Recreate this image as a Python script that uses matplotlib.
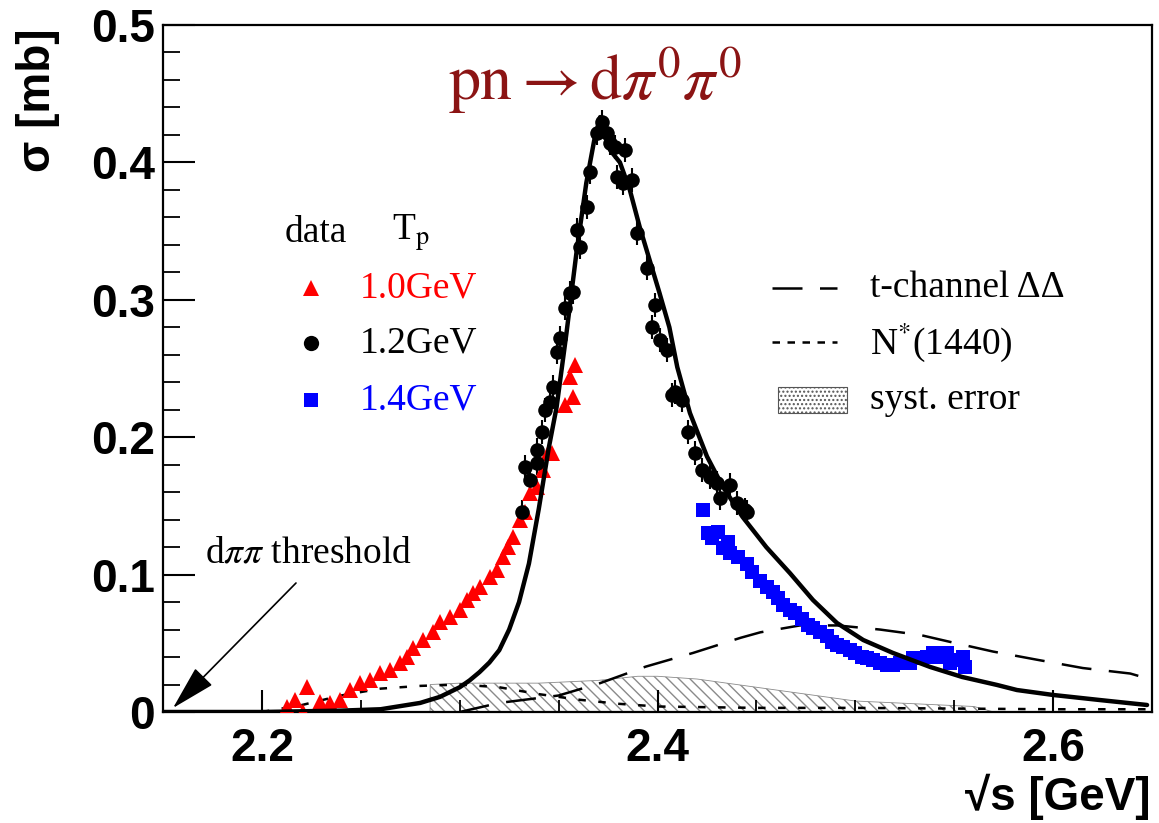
import matplotlib
matplotlib.use("Agg")
import matplotlib.pyplot as plt
from matplotlib.lines import Line2D
from matplotlib.patches import Rectangle
from matplotlib.ticker import MultipleLocator, FixedLocator

plt.rcParams['mathtext.fontset'] = 'stix'

# ---------------- data ----------------
# 1.0 GeV (red triangles)
red_x = [2.2127, 2.2167, 2.2208, 2.2228, 2.2294, 2.2344, 2.2395, 2.2445, 2.2496, 2.2547,
         2.2597, 2.2648, 2.2698, 2.2734, 2.2764, 2.2814, 2.2865, 2.2900, 2.2951, 2.3002,
         2.3037, 2.3067, 2.3103, 2.3153, 2.3189, 2.3219, 2.3244, 2.3269, 2.3305, 2.3330,
         2.3355, 2.3391, 2.3421, 2.3446, 2.3467, 2.3532, 2.3573, 2.3558, 2.3583]
red_y = [0.0036, 0.0087, 0.0000, 0.0182, 0.0073, 0.0066, 0.0087, 0.0160, 0.0211, 0.0233,
         0.0284, 0.0306, 0.0357, 0.0400, 0.0466, 0.0524, 0.0582, 0.0655, 0.0691, 0.0742,
         0.0815, 0.0866, 0.0910, 0.0983, 0.1033, 0.1128, 0.1201, 0.1274, 0.1397, 0.1456,
         0.1594, 0.1638, 0.1761, 0.1885, 0.1885, 0.2234, 0.2293, 0.2438, 0.2525]

# 1.2 GeV (black circles)
blk_x = [2.3315, 2.3330, 2.3355, 2.3390, 2.3390, 2.3416, 2.3431, 2.3457, 2.3472, 2.3492,
         2.3507, 2.3532, 2.3558, 2.3573, 2.3593, 2.3608, 2.3644, 2.3659, 2.3694, 2.3719,
         2.3745, 2.3760, 2.3785, 2.3795, 2.3826, 2.3836, 2.3871, 2.3896, 2.3947, 2.3972,
         2.3987, 2.4013, 2.4048, 2.4073, 2.4089, 2.4124, 2.4154, 2.4190, 2.4225, 2.4265,
         2.4301, 2.4316, 2.4367, 2.4402, 2.4442, 2.4452]
blk_y = [0.1456, 0.1783, 0.1689, 0.1812, 0.1907, 0.2038, 0.2198, 0.2256, 0.2365, 0.2620,
         0.2722, 0.2940, 0.3049, 0.3057, 0.3508, 0.3384, 0.3675, 0.3930, 0.4214, 0.4294,
         0.4214, 0.4141, 0.4112, 0.3894, 0.3850, 0.4090, 0.3872, 0.3486, 0.3231, 0.2802,
         0.2962, 0.2707, 0.2635, 0.2307, 0.2329, 0.2271, 0.2038, 0.1885, 0.1761, 0.1710,
         0.1667, 0.1557, 0.1652, 0.1521, 0.1470, 0.1456]

# 1.4 GeV (blue squares)
blu_x = [2.4230, 2.4255, 2.4276, 2.4306, 2.4331, 2.4356, 2.4367, 2.4407, 2.4452, 2.4478,
         2.4518, 2.4554, 2.4584, 2.4609, 2.4635, 2.4670, 2.4695, 2.4731, 2.4761, 2.4786,
         2.4822, 2.4857, 2.4882, 2.4907, 2.4938, 2.4973, 2.4998, 2.5034, 2.5059, 2.5090,
         2.5125, 2.5160, 2.5191, 2.5226, 2.5277, 2.5292, 2.5362, 2.5393, 2.5428, 2.5464,
         2.5479, 2.5529, 2.5545, 2.5555]
blu_y = [0.147, 0.130, 0.127, 0.131, 0.119, 0.124, 0.116, 0.113, 0.108, 0.102,
         0.095, 0.091, 0.087, 0.083, 0.078, 0.074, 0.072, 0.068, 0.063, 0.061,
         0.058, 0.055, 0.051, 0.049, 0.047, 0.045, 0.043, 0.040, 0.039, 0.038,
         0.036, 0.034, 0.034, 0.036, 0.036, 0.039, 0.040, 0.043, 0.040, 0.043,
         0.036, 0.038, 0.040, 0.033]

# full model (solid)
fit_x = [2.150, 2.200, 2.240, 2.260, 2.280, 2.290, 2.300, 2.305, 2.310, 2.315, 2.320,
         2.325, 2.330, 2.335, 2.340, 2.345, 2.349, 2.354, 2.359, 2.364, 2.368, 2.371,
         2.376, 2.381, 2.386, 2.391, 2.396, 2.401, 2.406, 2.410, 2.4164, 2.425, 2.433,
         2.443, 2.455, 2.467, 2.4786, 2.4907, 2.504, 2.519, 2.5378, 2.554, 2.5716,
         2.5817, 2.600, 2.6237, 2.6475]
fit_y = [0.0, 0.0, 0.001, 0.002, 0.0066, 0.011, 0.018, 0.023, 0.029, 0.036, 0.045,
         0.060, 0.080, 0.108, 0.148, 0.192, 0.222, 0.276, 0.334, 0.385, 0.416, 0.433,
         0.409, 0.400, 0.380, 0.353, 0.329, 0.305, 0.280, 0.251, 0.2176, 0.186, 0.164,
         0.142, 0.120, 0.101, 0.0815, 0.0648, 0.0524, 0.043, 0.0328, 0.0255, 0.0197,
         0.016, 0.0124, 0.0087, 0.0051]

# t-channel DeltaDelta (long dashes)
tch_x = [2.300, 2.320, 2.350, 2.371, 2.394, 2.418, 2.442, 2.452, 2.472, 2.491, 2.5125,
         2.533, 2.548, 2.5696, 2.592, 2.615, 2.639, 2.645, 2.646]
tch_y = [0.0, 0.0066, 0.012, 0.021, 0.033, 0.043, 0.054, 0.058, 0.063, 0.063, 0.060,
         0.056, 0.051, 0.044, 0.038, 0.032, 0.028, 0.0255, 0.017]

# N*(1440) (short dashes)
nst_x = [2.200, 2.220, 2.240, 2.260, 2.280, 2.300, 2.320, 2.340, 2.360, 2.380, 2.400,
         2.450, 2.500, 2.550, 2.600, 2.650]
nst_y = [0.0, 0.005, 0.012, 0.017, 0.019, 0.020, 0.018, 0.013, 0.009, 0.006, 0.004,
         0.003, 0.003, 0.0025, 0.002, 0.002]

# systematic error band (upper edge)
sys_x = [2.285, 2.2851, 2.300, 2.340, 2.370, 2.390, 2.400, 2.420, 2.440, 2.460, 2.480,
         2.500, 2.530, 2.560, 2.570]
sys_y = [0.0, 0.020, 0.021, 0.021, 0.023, 0.026, 0.026, 0.024, 0.020, 0.016, 0.012,
         0.008, 0.006, 0.004, 0.0]

x_major = [2.2, 2.4, 2.6]
x_labels = ["2.2", "2.4", "2.6"]
y_major = [0, 0.1, 0.2, 0.3, 0.4, 0.5]
y_labels = ["0", "0.1", "0.2", "0.3", "0.4", "0.5"]

# ---------------- figure ----------------
W, H = 1159, 823
fig = plt.figure(figsize=(W / 100, H / 100), dpi=100)
L, R, T, B = 163, 1152, 25, 712
ax = fig.add_axes([L / W, 1 - B / H, (R - L) / W, (B - T) / H])
ax.set_xlim(2.15, 2.65)
ax.set_ylim(0, 0.5)

def fx(px):
    return px / W

def fy(py):
    return 1 - py / H

serif = ['Liberation Serif', 'DejaVu Serif']
sans = ['Liberation Sans', 'DejaVu Sans']

# systematic band
ax.fill_between(sys_x, 0, sys_y, facecolor='none', edgecolor='#8a8a8a',
                hatch='\\\\\\', linewidth=0.6, zorder=1)

# model curves
ax.plot(tch_x, tch_y, color='black', lw=1.8, linestyle=(0, (12, 7)), zorder=2)
ax.plot(nst_x, nst_y, color='black', lw=1.8, linestyle=(0, (3, 5)), zorder=2)
ax.plot(fit_x, fit_y, color='black', lw=3.2, zorder=4, solid_capstyle='round',
        solid_joinstyle='round')

# data
ax.errorbar(red_x, red_y, yerr=0.004, fmt='^', color='#ff0000', ms=11, mew=0,
            elinewidth=1.2, capsize=0, zorder=3)
ax.errorbar(blk_x, blk_y, yerr=0.009, fmt='o', color='black', ms=10.5, mew=0,
            elinewidth=1.5, capsize=0, zorder=3)
ax.errorbar(blu_x, blu_y, yerr=0.004, fmt='s', color='#0000ff', ms=10.5, mew=0,
            elinewidth=1.2, capsize=0, zorder=3)

# axes styling
for s in ['top', 'right', 'left', 'bottom']:
    ax.spines[s].set_linewidth(1.6)
ax.xaxis.set_major_locator(FixedLocator(x_major))
ax.xaxis.set_minor_locator(MultipleLocator(0.05))
ax.yaxis.set_major_locator(FixedLocator(y_major))
ax.yaxis.set_minor_locator(MultipleLocator(0.02))
ax.set_xticklabels(x_labels)
ax.set_yticklabels(y_labels)
ax.tick_params(axis='both', which='both', direction='in', top=False, right=False)
ax.tick_params(axis='x', which='major', length=16, width=1.5, pad=11)
ax.tick_params(axis='x', which='minor', length=9, width=1.3)
ax.tick_params(axis='y', which='major', length=23, width=1.5, pad=6)
ax.tick_params(axis='y', which='minor', length=12, width=1.3)
for lab in ax.get_xticklabels() + ax.get_yticklabels():
    lab.set_fontfamily(sans)
    lab.set_fontweight('bold')
    lab.set_fontsize(33)

# axis titles
fig.text(fx(38), fy(100), "σ [mb]", rotation=90, ha='center', va='center',
         fontsize=33, fontweight='bold', family=sans)
fig.text(fx(1151), fy(797), "√s [GeV]", ha='right', va='center',
         fontsize=33, fontweight='bold', family=sans)

# reaction title
fig.text(fx(595), fy(80), r"$\mathrm{pn} \rightarrow \mathrm{d}\pi^0\pi^0$",
         ha='center', va='center', fontsize=46, color='#8b1414')

# left legend (data)
fig.text(fx(285), fy(233), "data", ha='left', va='center', fontsize=27, family=serif)
fig.text(fx(392), fy(233), r"T$_{\mathrm{p}}$", ha='left', va='center', fontsize=27,
         family=serif)
leg_rows = [("^", '#ff0000', "1.0GeV", 288, 12),
            ("o", 'black', "1.2GeV", 343, 11),
            ("s", '#0000ff', "1.4GeV", 400, 10)]
for mk, col, txt, py, ms in leg_rows:
    fig.add_artist(Line2D([fx(311)], [fy(py)], marker=mk, color=col, ms=ms, mew=0,
                          linestyle='none', transform=fig.transFigure))
    fig.text(fx(360), fy(py), txt, ha='left', va='center', fontsize=27, color=col,
             family=serif)

# right legend (models)
fig.add_artist(Line2D([fx(772), fx(837)], [fy(288), fy(288)], color='black', lw=1.8,
                      linestyle=(0, (12, 7)), transform=fig.transFigure))
fig.text(fx(870), fy(288), "t-channel ΔΔ", ha='left', va='center', fontsize=27,
         family=serif)
fig.add_artist(Line2D([fx(772), fx(837)], [fy(342), fy(342)], color='black', lw=1.8,
                      linestyle=(0, (3, 3)), transform=fig.transFigure))
fig.text(fx(870), fy(342), r"N$^{*}$(1440)", ha='left', va='center', fontsize=27,
         family=serif)
fig.add_artist(Rectangle((fx(778), fy(413)), fx(847) - fx(778), fy(387) - fy(413),
                         facecolor='white', edgecolor='#555555', hatch='....', lw=0.8,
                         transform=fig.transFigure))
fig.text(fx(870), fy(400), "syst. error", ha='left', va='center', fontsize=27,
         family=serif)

# threshold annotation
fig.text(fx(205), fy(553), r"d$\pi\pi$ threshold", ha='left', va='center', fontsize=27,
         family=serif)
ax.annotate("", xy=(fx(173), fy(708)), xycoords='figure fraction',
            xytext=(fx(296), fy(583)), textcoords='figure fraction',
            arrowprops=dict(arrowstyle='-|>,head_length=1.5,head_width=0.4',
                            mutation_scale=19, lw=1.2, color='black',
                            shrinkA=0, shrinkB=0))

fig.savefig("out.png", dpi=100)
